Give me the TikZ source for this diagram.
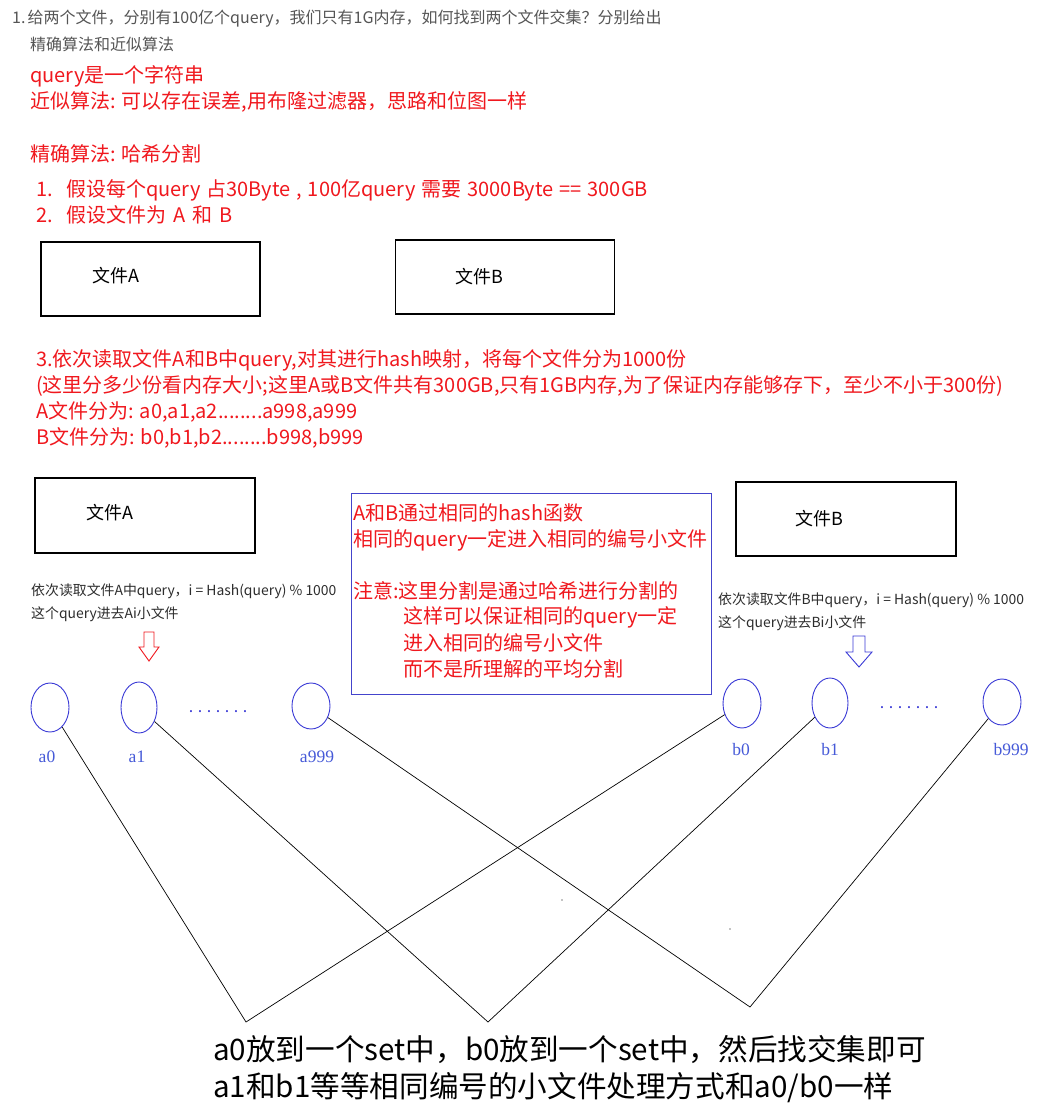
\documentclass[tikz,border=0pt]{standalone}
\usepackage{fontspec}
\setmainfont{Noto Sans CJK SC}
\newfontfamily\labfont{Liberation Serif}
\usetikzlibrary{shapes.geometric}
\definecolor{redc}{RGB}{240,24,30}
\definecolor{grayc}{RGB}{85,85,85}
\definecolor{darkc}{RGB}{45,45,45}
\definecolor{bluec}{RGB}{58,58,214}
\definecolor{bluet}{RGB}{70,90,216}
\definecolor{boxblue}{RGB}{68,68,204}
\newcommand{\mydots}{\makebox[9pt]{.}\makebox[9pt]{.}\makebox[9pt]{.}\makebox[9pt]{.}\makebox[9pt]{.}\makebox[9pt]{.}\makebox[9pt]{.}}
\tikzset{
  rtxt/.style={anchor=west, inner sep=0pt, text=redc, font=\fontsize{20}{23}\selectfont},
  gtxt/.style={anchor=west, inner sep=0pt, text=grayc, font=\fontsize{16}{19}\selectfont},
  stxt/.style={anchor=west, inner sep=0pt, text=darkc, font=\fontsize{13.9}{16}\selectfont},
  ftxt/.style={anchor=west, inner sep=0pt, text=black, font=\fontsize{18}{21}\selectfont},
  btxt/.style={anchor=west, inner sep=0pt, text=black, font=\fontsize{29.6}{34}\selectfont},
  filebox/.style={draw=black, line width=1.2pt, inner sep=0pt},
  sub/.style={ellipse, draw=bluec, line width=0.9pt, inner sep=0pt},
  sublabel/.style={inner sep=0pt, text=bluet, font=\labfont\fontsize{17.5}{20}\selectfont},
  link/.style={draw=black, line width=0.7pt},
}
\begin{document}
\begin{tikzpicture}[x=1pt,y=-1pt]
\useasboundingbox[fill=white] (0,0) rectangle (1048,1110);

% header
\node[gtxt] (h1) at (12,19) {1.\hspace{2pt}给两个文件，分别有100亿个query，我们只有1G内存，如何找到两个文件交集？分别给出};
\node[gtxt] (h2) at (30,44) {精确算法和近似算法};

% red notes
\node[rtxt] (r1) at (30,76) {query是一个字符串};
\node[rtxt] (r2) at (30,102) {近似算法: 可以存在误差,用布隆过滤器，思路和位图一样};
\node[rtxt] (r3) at (30,154) {精确算法: 哈希分割};
\node[rtxt] (r4) at (36,190) {\spaceskip=0.3em\makebox[30pt][l]{1.}假设每个query 占30Byte , 100亿query 需要 3000Byte == 300GB};
\node[rtxt] (r5) at (36,215) {\spaceskip=0.35em\makebox[30pt][l]{2.}假设文件为 A 和 B};

% first file boxes
\node[filebox, minimum width=219pt, minimum height=74pt] (fA1) at (150.5,279) {};
\node[ftxt] (fA1t) at (92,276) {文件A};
\node[filebox, minimum width=219pt, minimum height=74pt] (fB1) at (505,277) {};
\node[ftxt] (fB1t) at (455,277) {文件B};

% step 3
\node[rtxt] (s1) at (36,360) {3.依次读取文件A和B中query,对其进行hash映射，将每个文件分为1000份};
\node[rtxt] (s2) at (36,386) {(这里分多少份看内存大小;这里A或B文件共有300GB,只有1GB内存,为了保证内存能够存下，至少不小于300份)};
\node[rtxt] (s3) at (36,412) {A文件分为: a0,a1,a2........a998,a999};
\node[rtxt] (s4) at (36,438) {B文件分为: b0,b1,b2........b998,b999};

% second file boxes
\node[filebox, minimum width=220pt, minimum height=75pt] (fA2) at (145,515.5) {};
\node[ftxt] (fA2t) at (86,513) {文件A};
\node[filebox, minimum width=220pt, minimum height=74pt] (fB2) at (846,519) {};
\node[ftxt] (fB2t) at (795,519) {文件B};

% blue note box
\node[draw=boxblue, line width=1pt, minimum width=359.5pt, minimum height=201pt, inner sep=0pt] (note) at (531.25,593.5) {};
\node[rtxt] (n1) at (353,513) {A和B通过相同的hash函数};
\node[rtxt] (n2) at (353,540) {相同的query一定进入相同的编号小文件};
\node[rtxt] (n3) at (353,591) {注意:这里分割是通过哈希进行分割的};
\node[rtxt] (n4) at (403,617) {这样可以保证相同的query一定};
\node[rtxt] (n5) at (403,643) {进入相同的编号小文件};
\node[rtxt] (n6) at (403,669) {而不是所理解的平均分割};

% small descriptions
\node[stxt] (dA1) at (31,591) {依次读取文件A中query，i = Hash(query) \% 1000};
\node[stxt] (dA2) at (31,614) {这个query进去Ai小文件};
\node[stxt] (dB1) at (718,600) {依次读取文件B中query，i = Hash(query) \% 1000};
\node[stxt] (dB2) at (718,623) {这个query进去Bi小文件};

% hollow arrows
\draw[redc, line width=0.9pt] (144,632) -- (154,632) -- (154,647) -- (159,647) -- (149,661) -- (139,647) -- (144,647) -- cycle;
\draw[bluec, line width=0.9pt] (853,636) -- (865,636) -- (865,652) -- (872,652) -- (859,667) -- (846,652) -- (853,652) -- cycle;

% small files A
\node[sub, minimum width=38pt, minimum height=49pt] (a0) at (50,707.5) {};
\node[sub, minimum width=36pt, minimum height=51pt] (a1) at (139,707.5) {};
\node[sub, minimum width=38pt, minimum height=46pt] (a999) at (311,706) {};
\node[inner sep=0pt, text=bluec, font=\fontsize{16}{16}\selectfont] (dotsA) at (218,712) {\mydots};
\node[sublabel] (la0) at (47,757) {a0};
\node[sublabel] (la1) at (137,757) {a1};
\node[sublabel] (la999) at (317,757) {a999};

% small files B
\node[sub, minimum width=38pt, minimum height=49pt] (b0) at (742,703.5) {};
\node[sub, minimum width=36pt, minimum height=50pt] (b1) at (830,703) {};
\node[sub, minimum width=38pt, minimum height=46pt] (b999) at (1002,702) {};
\node[inner sep=0pt, text=bluec, font=\fontsize{16}{16}\selectfont] (dotsB) at (909,708) {\mydots};
\node[sublabel] (lb0) at (741,750) {b0};
\node[sublabel] (lb1) at (830,750) {b1};
\node[sublabel] (lb999) at (1011,750) {b999};

% connectors
\coordinate (v1) at (246,1022);
\coordinate (v2) at (488,1022);
\coordinate (v3) at (750,1007);
\draw[link] (a0) -- (v1) -- (b0);
\draw[link] (a1) -- (v2) -- (b1);
\draw[link] (a999) -- (v3) -- (b999);
\fill[black] (562,900) circle (0.7);
\fill[black] (730,929) circle (0.7);

% bottom text
\node[btxt] (t1) at (213,1050) {a0放到一个set中，b0放到一个set中，然后找交集即可};
\node[btxt] (t2) at (213,1088) {a1和b1等等相同编号的小文件处理方式和a0/b0一样};
\end{tikzpicture}
\end{document}
